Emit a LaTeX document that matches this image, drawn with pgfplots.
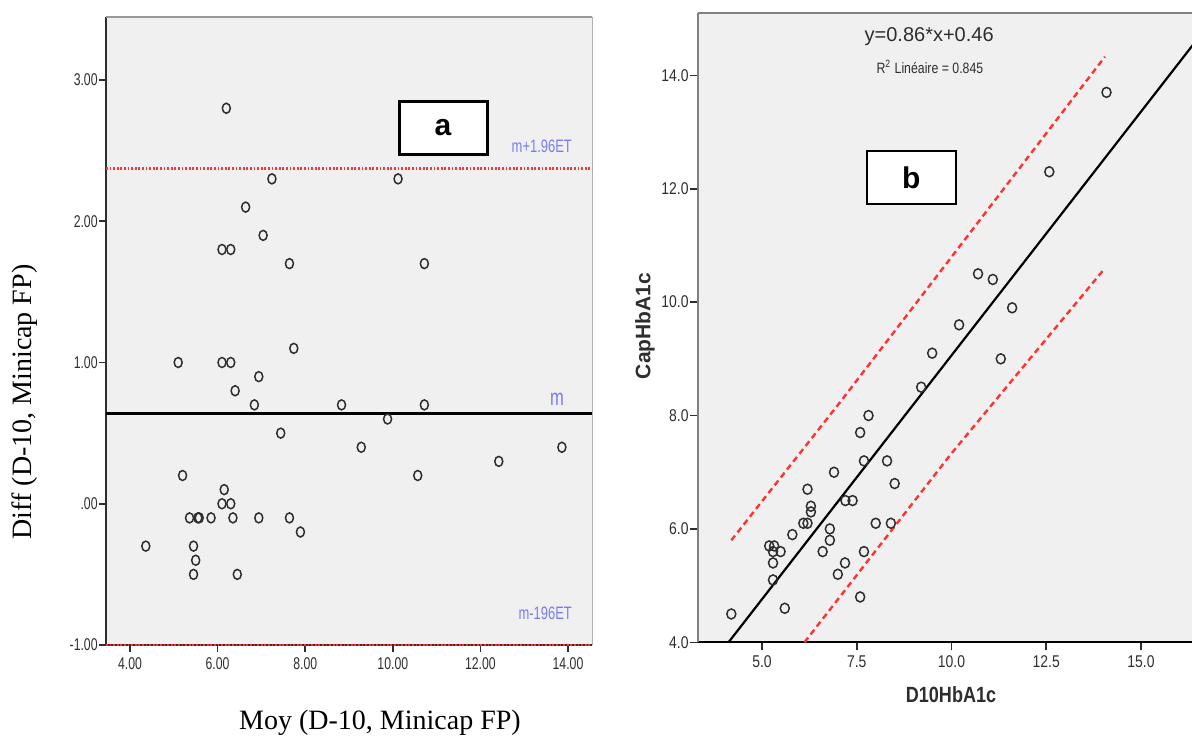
\documentclass[border=0pt]{standalone}
\usepackage{fontspec}
\setmainfont{Liberation Serif}
\setsansfont{Liberation Sans}
\newfontfamily\narrow[FakeStretch=0.72]{Liberation Sans}
\newfontfamily\semi[FakeStretch=0.82]{Liberation Sans}
\usepackage{pgfplots}
\pgfplotsset{compat=1.18}
\usepackage{pgfplotstable}

\definecolor{panel}{HTML}{F0F0F0}
\definecolor{limred}{HTML}{FF3333}
\definecolor{labblue}{HTML}{7B7BF5}
\definecolor{ink}{HTML}{2E2E2E}

% Bland-Altman: mean vs difference
\pgfplotstableread{
moy diff
6.20 2.80
7.24 2.30
10.12 2.30
6.64 2.10
7.04 1.90
6.10 1.80
6.30 1.80
7.64 1.70
10.72 1.70
7.74 1.10
5.10 1.00
6.10 1.00
6.30 1.00
6.94 0.90
6.40 0.80
6.84 0.70
8.83 0.70
10.72 0.70
9.88 0.60
7.44 0.50
9.28 0.40
13.86 0.40
12.42 0.30
5.20 0.20
10.57 0.20
6.15 0.10
6.10 0.00
6.30 0.00
5.36 -0.10
5.55 -0.10
5.58 -0.10
5.85 -0.10
6.35 -0.10
6.94 -0.10
7.64 -0.10
7.89 -0.20
4.36 -0.30
5.45 -0.30
5.50 -0.40
5.45 -0.50
6.45 -0.50
}\badata

% D10 vs Minicap
\pgfplotstableread{
d10 cap
4.19 4.50
5.60 4.60
5.29 5.10
5.29 5.40
5.29 5.60
5.19 5.70
5.32 5.70
5.49 5.60
5.80 5.90
6.09 6.10
6.20 6.10
6.20 6.70
6.29 6.40
6.29 6.30
6.60 5.60
6.79 6.00
6.79 5.80
6.90 7.00
7.00 5.20
7.19 5.40
7.20 6.50
7.39 6.50
7.59 7.70
7.69 7.20
7.81 8.00
7.69 5.60
7.59 4.80
8.00 6.10
8.30 7.20
8.40 6.10
8.50 6.80
9.20 8.50
9.49 9.10
10.20 9.60
10.70 10.50
11.09 10.40
11.60 9.90
11.30 9.00
14.09 13.70
12.58 12.30
}\regdata

\begin{document}
\begin{tikzpicture}
\useasboundingbox (0pt,0pt) rectangle (596pt,368pt);
\clip (0pt,0pt) rectangle (596pt,368pt);

% ---- panel a
\begin{axis}[
  at={(53pt,45.5pt)}, anchor=south west, scale only axis,
  width=243pt, height=314pt,
  xmin=3.452, xmax=14.548, ymin=-1, ymax=3.446,
  axis lines*=left, clip=false,
  axis background/.style={fill=panel},
  axis line style={ink, line width=0.8pt},
  tick align=outside, major tick length=3.5pt,
  tick style={ink, line width=0.8pt},
  xtick={4,6,...,14}, xticklabels={4.00,6.00,8.00,10.00,12.00,14.00},
  ytick={-1,0,1,2,3}, yticklabels={-1.00,.00,1.00,2.00,3.00},
  ticklabel style={font=\narrow\fontsize{8.5}{9}\selectfont, text=ink},
  yticklabel style={inner sep=0.5pt},
  xticklabel style={inner sep=1pt, yshift=-1.5pt},
]
\draw[gray!80, line width=1pt] (rel axis cs:0,1) -- (rel axis cs:1,1);
\draw[gray!60, line width=0.5pt] (rel axis cs:1,1) -- (rel axis cs:1,0);
\addplot[limred, line width=1.3pt, dash pattern=on 0.9pt off 0.9pt] coordinates {(3.452,2.373) (14.548,2.373)};
\addplot[black, line width=1.5pt] coordinates {(3.452,0.637) (14.548,0.637)};
\addplot[limred, line width=1.3pt, dash pattern=on 0.9pt off 0.9pt] coordinates {(3.452,-1) (14.548,-1)};
\addplot[only marks, mark=o, mark size=2.5pt, mark options={ink, line width=0.75pt, xscale=0.8}] table[x=moy, y=diff] {\badata};
\node[anchor=east, text=labblue, font=\narrow\fontsize{9}{10}\selectfont] at (axis cs:14.25,2.53) {m+1.96ET};
\node[text=labblue, font=\narrow\fontsize{11.5}{12}\selectfont] at (axis cs:13.75,0.74) {m};
\node[anchor=east, text=labblue, font=\narrow\fontsize{9}{10}\selectfont] at (axis cs:14.25,-0.773) {m-196ET};
\node[draw=black, line width=1.5pt, fill=white, minimum width=44pt, minimum height=26.5pt, inner sep=0pt,
  font=\sffamily\bfseries\fontsize{15}{16}\selectfont] at (axis cs:11.146,2.66) {a};
\end{axis}

% ---- panel b
\begin{axis}[
  at={(349pt,46.85pt)}, anchor=south west, scale only axis,
  width=251pt, height=314.65pt,
  xmin=3.311, xmax=16.557, ymin=4, ymax=15.1,
  axis lines*=left, clip mode=individual,
  axis background/.style={fill=panel},
  x axis line style={black, line width=1pt},
  y axis line style={gray, line width=1.1pt},
  tick align=outside, major tick length=4pt,
  tick style={ink, line width=0.8pt},
  xtick={5,7.5,10,12.5,15}, xticklabels={5.0,7.5,10.0,12.5,15.0},
  ytick={4,6,...,14}, yticklabels={4.0,6.0,8.0,10.0,12.0,14.0},
  ticklabel style={font=\semi\fontsize{8.5}{9}\selectfont, text=ink},
  yticklabel style={inner sep=0.5pt},
  xticklabel style={inner sep=1pt, yshift=-1.5pt},
]
\draw[gray, line width=1.1pt] (rel axis cs:0,1) -- (rel axis cs:1,1);
\addplot[black, line width=1.1pt] coordinates {(4.116,4) (16.6,14.736)};
\addplot[limred, line width=1.2pt, dash pattern=on 3pt off 2pt] coordinates {(4.19,5.80) (7.10,8.27) (8.8,9.75) (14.05,14.33)};
\addplot[limred, line width=1.2pt, dash pattern=on 3pt off 2pt] coordinates {(6.12,4.0) (9.96,7.30) (14.05,10.60)};
\addplot[only marks, mark=o, mark size=2.5pt, mark options={ink, line width=0.75pt, xscale=0.9}] table[x=d10, y=cap] {\regdata};
\node[text=ink, font=\sffamily\fontsize{10}{12}\selectfont] at (axis cs:9.41,14.69) {y=0.86*x+0.46};
\node[text=ink, font=\semi\fontsize{7.5}{9}\selectfont] at (axis cs:9.43,14.146) {R\textsuperscript{2} Linéaire = 0.845};
\node[draw=black, line width=1pt, fill=white, minimum width=44.5pt, minimum height=26.5pt, inner sep=0pt,
  font=\sffamily\bfseries\fontsize{15}{16}\selectfont] at (axis cs:8.94,12.20) {b};
\end{axis}

% axis titles
\node[rotate=90, font=\fontsize{14}{16}\selectfont] at (12.5pt,167pt) {Diff (D-10, Minicap FP)};
\node[font=\fontsize{14}{16}\selectfont] at (190pt,6.5pt) {Moy (D-10, Minicap FP)};
\node[rotate=90, text=ink, font=\sffamily\bfseries\fontsize{10.5}{12}\selectfont] at (322.5pt,205pt) {CapHbA1c};
\node[text=ink, font=\semi\bfseries\fontsize{11}{12}\selectfont] at (475.5pt,20.5pt) {D10HbA1c};
\end{tikzpicture}
\end{document}
